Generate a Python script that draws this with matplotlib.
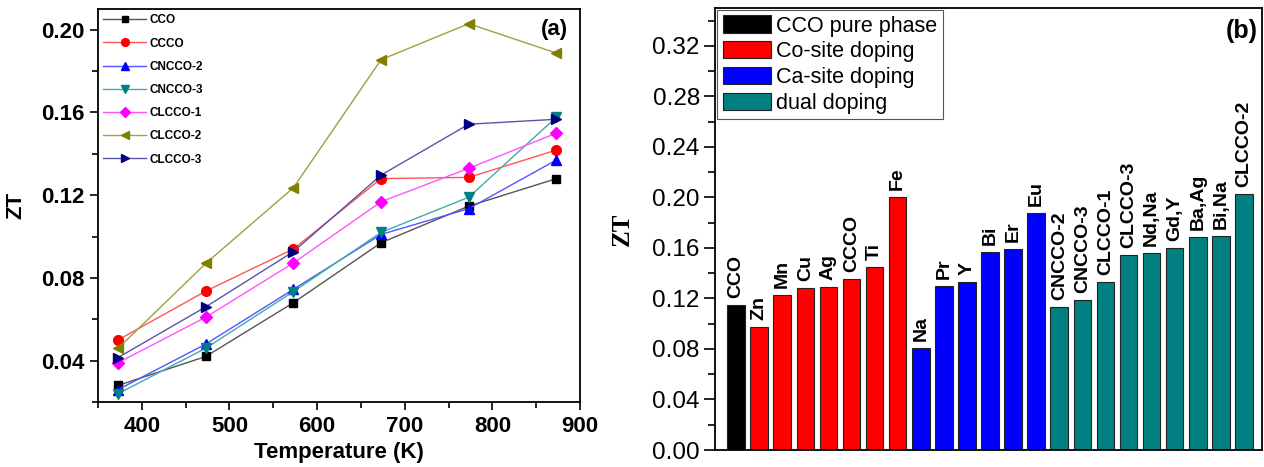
import numpy as np
import matplotlib.pyplot as plt
from matplotlib.ticker import MultipleLocator, FormatStrFormatter

plt.rcParams['font.family'] = ['Liberation Sans', 'DejaVu Sans']

# panel (a): ZT vs temperature
temps = [373, 473, 573, 673, 773, 873]
cco = [0.028, 0.042, 0.068, 0.097, 0.1147, 0.128]
ccco = [0.050, 0.0736, 0.094, 0.128, 0.1286, 0.1418]
cncco2 = [0.026, 0.048, 0.0745, 0.101, 0.1135, 0.137]
cncco3 = [0.024, 0.046, 0.0734, 0.102, 0.119, 0.1577]
clcco1 = [0.039, 0.061, 0.0872, 0.1168, 0.133, 0.150]
clcco2 = [0.046, 0.087, 0.1236, 0.1855, 0.2029, 0.1887]
clcco3 = [0.0415, 0.066, 0.0927, 0.1297, 0.1543, 0.1567]

series_names = ['CCO', 'CCCO', 'CNCCO-2', 'CNCCO-3', 'CLCCO-1', 'CLCCO-2', 'CLCCO-3']
series_vals = [cco, ccco, cncco2, cncco3, clcco1, clcco2, clcco3]

# panel (b): max ZT of doped samples
pure_labels = ['CCO']
pure_zt = [0.1145]
co_labels = ['Zn', 'Mn', 'Cu', 'Ag', 'CCCO', 'Ti', 'Fe']
co_zt = [0.0971, 0.1230, 0.1285, 0.1288, 0.1356, 0.1451, 0.2000]
ca_labels = ['Na', 'Pr', 'Y', 'Bi', 'Er', 'Eu']
ca_zt = [0.0810, 0.1301, 0.1330, 0.1568, 0.1588, 0.1873]
dual_labels = ['CNCCO-2', 'CNCCO-3', 'CLCCO-1', 'CLCCO-3', 'Nd,Na', 'Gd,Y',
               'Ba,Ag', 'Bi,Na', 'CLCCO-2']
dual_zt = [0.1129, 0.1187, 0.1327, 0.1541, 0.1562, 0.1599, 0.1686, 0.1697, 0.2026]

fig = plt.figure(figsize=(12.64, 4.67), dpi=100)

# ---------------- (a) ----------------
ax1 = fig.add_axes([0.0775, 0.1392, 0.3814, 0.8415])
markers = ['s', 'o', '^', 'v', 'D', '<', '>']
mcolors = ['black', 'red', 'blue', '#008080', '#FF00FF', '#808000', '#000080']
lcolors = ['#555555', '#FF5555', '#5555FF', '#44AAAA', '#FF55FF', '#A0A040', '#5555AA']
msizes = [6, 7, 7, 7, 6.5, 7, 7]
for name, vals, m, mc, lc, ms in zip(series_names, series_vals, markers,
                                     mcolors, lcolors, msizes):
    ax1.plot(temps, vals, color=lc, lw=1.0, marker=m, ms=ms,
             mfc=mc, mec=mc, label=name)

ax1.set_xlim(350, 900)
ax1.set_ylim(0.02, 0.21)
ax1.xaxis.set_major_locator(MultipleLocator(100))
ax1.xaxis.set_minor_locator(MultipleLocator(50))
ax1.yaxis.set_major_locator(MultipleLocator(0.04))
ax1.yaxis.set_minor_locator(MultipleLocator(0.02))
ax1.yaxis.set_major_formatter(FormatStrFormatter('%.2f'))
ax1.set_yticks([0.04, 0.08, 0.12, 0.16, 0.20])
ax1.tick_params(which='major', direction='out', length=6, width=1.2,
                labelsize=16, pad=4)
ax1.tick_params(which='minor', direction='out', length=4, width=1.2)
for lab in ax1.get_xticklabels() + ax1.get_yticklabels():
    lab.set_fontweight('bold')
for sp in ax1.spines.values():
    sp.set_linewidth(1.3)
ax1.set_xlabel('Temperature (K)', fontsize=16, fontweight='bold', labelpad=4)
ax1.set_ylabel('ZT', fontsize=16, fontweight='bold', labelpad=10)
ax1.text(0.975, 0.975, '(a)', transform=ax1.transAxes, ha='right', va='top',
         fontsize=16, fontweight='bold')
leg1 = ax1.legend(loc='upper left', frameon=False,
                  prop={'weight': 'bold', 'size': 8.5}, handlelength=3.6,
                  handletextpad=0.3, labelspacing=0.95, borderaxespad=0.15,
                  borderpad=0.3, markerscale=0.8)

# ---------------- (b) ----------------
ax2 = fig.add_axes([0.5657, 0.0364, 0.4327, 0.9466])
groups = [
    (pure_labels, pure_zt, 'black', 'CCO pure phase'),
    (co_labels, co_zt, '#FF0000', 'Co-site doping'),
    (ca_labels, ca_zt, '#0000FF', 'Ca-site doping'),
    (dual_labels, dual_zt, '#008080', 'dual doping'),
]
start = 0
for labels, vals, col, gname in groups:
    xs = np.arange(start, start + len(vals))
    ax2.bar(xs, vals, width=0.76, color=col, edgecolor='#222222',
            linewidth=0.8, label=gname)
    for x, v, t in zip(xs, vals, labels):
        ax2.annotate(t, (x, v), xytext=(0, 5), textcoords='offset points',
                     rotation=90, ha='center', va='bottom', fontsize=14,
                     fontweight='bold')
    start += len(vals)

ax2.set_xlim(-0.91, start - 1 + 0.78)
ax2.set_ylim(0, 0.35)
ax2.set_xticks([])
ax2.yaxis.set_major_locator(MultipleLocator(0.04))
ax2.yaxis.set_minor_locator(MultipleLocator(0.02))
ax2.yaxis.set_major_formatter(FormatStrFormatter('%.2f'))
ax2.tick_params(axis='y', which='major', direction='out', length=8,
                width=1.2, labelsize=17.5, pad=3)
ax2.tick_params(axis='y', which='minor', direction='out', length=5, width=1.2)
for sp in ax2.spines.values():
    sp.set_linewidth(1.3)
ax2.set_ylabel('ZT', fontsize=18, fontweight='bold',
               family=['Liberation Serif', 'DejaVu Serif'], labelpad=13)
ax2.text(0.992, 0.975, '(b)', transform=ax2.transAxes, ha='right', va='top',
         fontsize=18, fontweight='bold')
leg2 = ax2.legend(loc='upper left', fontsize=15.5, fancybox=False,
                  edgecolor='#555555', framealpha=1, handlelength=2.25,
                  handleheight=0.85, handletextpad=0.25, labelspacing=0.22,
                  borderpad=0.25, borderaxespad=0.1)
leg2.get_frame().set_linewidth(0.8)

fig.savefig('out.png', dpi=100)
